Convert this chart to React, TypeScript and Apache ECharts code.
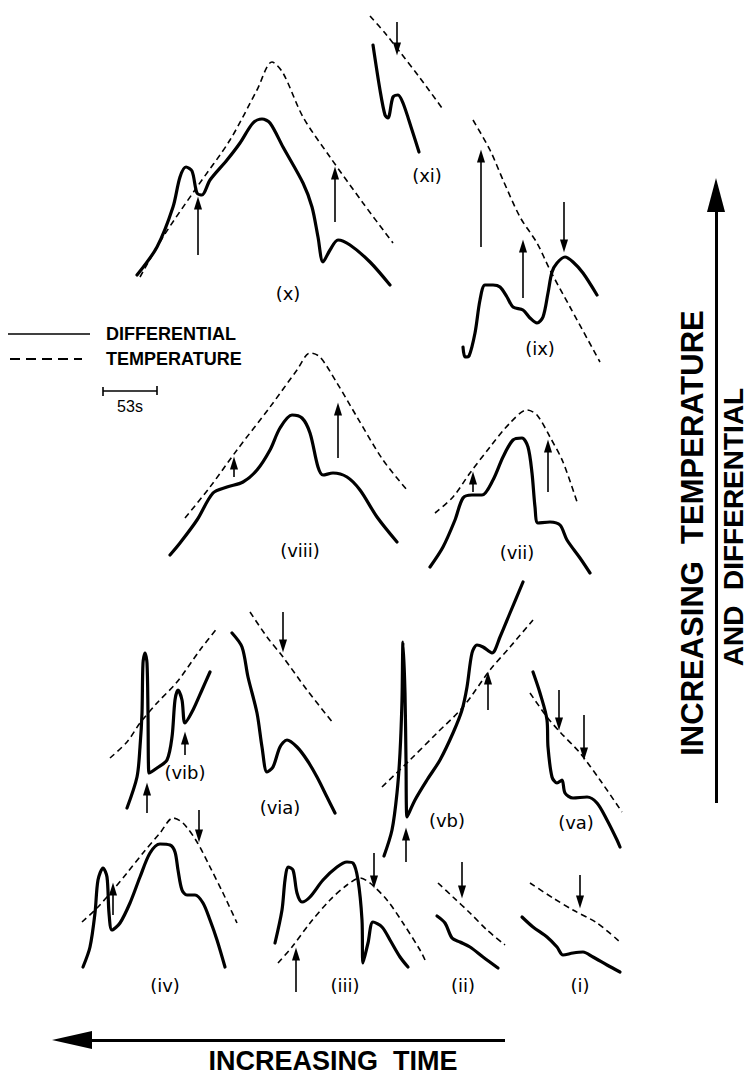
import { useEffect, useRef } from "react";
import * as echarts from "echarts";

// ---- curve data (page coordinates) ----
const xTemp = [[140,277],[163,237],[197,187],[230,140],[257,90],[272,62],[283,73],[303,117],[330,157],[363,203],[393,243]];
const xDiff = [[137,275],[157,247],[173,207],[180,177],[186,167],[192,171],[197,193],[202,195],[210,180],[227,160],[240,143],[253,123],[262,119],[270,123],[283,147],[303,183],[312,207],[318,237],[323,262],[330,250],[338,240],[350,245],[370,262],[390,285]];
const xiTemp = [[370,16],[385,33],[400,52],[420,78],[442,108]];
const xiDiff = [[373,45],[380,90],[385,115],[388,118],[393,97],[398,95],[403,103],[412,130],[419,152]];
const ixTemp = [[473,120],[490,150],[503,180],[520,217],[537,243],[550,270],[570,307],[600,362]];
const ixDiff = [[463,347],[465,357],[469,356],[475,333],[480,300],[485,285],[493,285],[500,287],[507,297],[513,307],[523,310],[530,318],[537,323],[543,317],[548,293],[552,272],[557,263],[565,257],[573,262],[583,273],[597,295]];
const viiiTemp = [[185,518],[210,487],[237,450],[270,407],[297,370],[310,353],[320,357],[337,383],[357,417],[383,460],[407,490]];
const viiiDiff = [[170,555],[180,543],[197,520],[213,493],[227,487],[243,482],[257,470],[270,450],[280,428],[292,415],[302,418],[310,433],[318,467],[323,475],[333,473],[347,477],[360,490],[377,517],[397,542]];
const viiTemp = [[435,513],[453,497],[470,473],[490,447],[510,423],[527,410],[537,415],[550,437],[563,462],[578,505]];
const viiDiff = [[430,567],[443,547],[455,520],[463,498],[472,495],[482,495],[493,480],[503,457],[513,440],[522,438],[528,447],[532,473],[535,507],[538,523],[550,522],[560,525],[567,540],[580,558],[590,573]];
const vibTemp = [[110,758],[127,742],[140,723],[157,703],[177,682],[200,650],[218,627]];
const vibDiff = [[127,808],[137,777],[140,747],[142,713],[143,663],[145,653],[147,663],[148,713],[149,773],[157,768],[167,760],[172,737],[175,700],[178,690],[182,700],[185,723],[193,710],[202,690],[210,672]];
const viaTemp = [[250,612],[267,637],[283,657],[307,690],[333,723]];
const viaDiff = [[232,633],[242,647],[248,677],[257,713],[262,747],[267,772],[273,767],[280,747],[287,740],[297,747],[307,760],[317,777],[327,797],[335,813]];
const vbTemp = [[382,787],[410,760],[437,733],[463,707],[490,670],[510,647],[533,620]];
const vbDiff = [[384,856],[392,830],[397,793],[400,753],[402,700],[403,642],[405,693],[406,760],[407,817],[415,800],[427,780],[440,760],[453,733],[462,710],[467,687],[472,653],[477,645],[483,647],[492,653],[500,637],[510,613],[523,582]];
const vaTemp = [[530,693],[547,717],[560,732],[580,753],[600,780],[622,812]];
const vaDiff = [[533,672],[540,693],[547,720],[548,747],[552,777],[557,783],[562,780],[565,793],[573,798],[587,797],[597,803],[607,820],[617,840],[620,847]];
const ivTemp = [[82,922],[97,908],[113,890],[127,873],[143,853],[160,833],[173,818],[183,823],[197,842],[210,867],[223,893],[237,923]];
const ivDiff = [[83,967],[90,947],[95,913],[98,880],[103,868],[107,877],[109,913],[112,930],[120,923],[130,903],[140,877],[150,853],[160,844],[170,845],[175,852],[178,870],[182,890],[187,895],[195,895],[203,903],[210,920],[217,940],[225,967]];
const iiiTemp = [[278,963],[292,947],[310,923],[330,900],[347,885],[360,878],[370,883],[387,900],[403,923],[420,950],[425,960]];
const iiiDiff = [[275,943],[282,910],[285,880],[288,867],[293,870],[297,893],[302,902],[310,897],[323,880],[337,867],[347,862],[353,863],[358,880],[362,920],[363,963],[368,943],[373,922],[382,927],[390,940],[400,957],[408,967]];
const iiTemp = [[438,883],[453,897],[470,913],[487,930],[505,945]];
const iiDiff = [[437,916],[445,923],[452,938],[460,942],[470,947],[483,957],[498,968]];
const iTemp = [[530,883],[553,898],[573,910],[597,923],[620,942]];
const iDiff = [[522,917],[533,927],[547,937],[557,947],[563,955],[573,953],[583,952],[593,957],[607,965],[620,972]];

// vertical marker arrows: [x, tailY, headY]
const markerArrows = [
  [198,255,197],[335,222,167],
  [397,22,55],
  [481,247,150],[523,298,240],[564,202,252],
  [234,477,457],[338,458,403],
  [473,492,472],[548,492,440],
  [147,813,783],[185,755,732],
  [283,612,652],
  [488,710,672],[406,862,828],
  [559,690,730],[584,715,760],
  [113,915,883],[199,810,842],
  [296,992,948],[374,853,888],
  [462,862,898],
  [580,875,908],
];

// panel labels: [text, x, y]
const panelLabels = [
  ["(x)",288,293],["(xi)",427,175],["(ix)",540,348],
  ["(viii)",300,550],["(vii)",517,552],
  ["(vib)",185,772],["(via)",280,807],["(vb)",447,820],["(va)",576,822],
  ["(iv)",165,985],["(iii)",345,985],["(ii)",463,985],["(i)",580,985],
];

// legend
const legendSolid = [[8,334],[90,334]];
const legendDash = [[10,359],[82,359]];
const legendTexts = [["DIFFERENTIAL",106,334],["TEMPERATURE",106,359]];
const scaleBar = [[103,391],[157,391]];
const scaleTicks = [[103,387,396],[157,386,395]];
const scaleText = ["53s",130,406];

// big axes arrows
const tempAxis = [716,803,178]; // x, tail y, head y
const timeAxis = [1040,505,52]; // y, tail x, head x
const tempAxisTexts = [["INCREASING  TEMPERATURE",692,533,31],["AND  DIFFERENTIAL",733,527,28]];
const timeAxisText = ["INCREASING  TIME",333,1061];

const diffCurves = [xDiff, xiDiff, ixDiff, viiiDiff, viiDiff, vibDiff, viaDiff, vbDiff, vaDiff, ivDiff, iiiDiff, iiDiff, iDiff];
const tempCurves = [xTemp, xiTemp, ixTemp, viiiTemp, viiTemp, vibTemp, viaTemp, vbTemp, vaTemp, ivTemp, iiiTemp, iiTemp, iTemp];

export default function App() {
  const ref = useRef<HTMLDivElement>(null);
  useEffect(() => {
    const chart = echarts.init(ref.current!, null, { renderer: "svg" });
    const INK = "#000";
    const textBase = { show: true, color: INK, textBorderWidth: 0, textBorderColor: "transparent", textShadowBlur: 0 };
    const series: any[] = [];
    diffCurves.forEach((d) =>
      series.push({
        type: "line", data: d, smooth: 0.3, symbol: "none", silent: true, clip: false,
        lineStyle: { color: INK, width: 3.2, cap: "round", join: "round" },
      })
    );
    tempCurves.forEach((d) =>
      series.push({
        type: "line", data: d, smooth: 0.3, symbol: "none", silent: true, clip: false,
        lineStyle: { color: INK, width: 1.6, type: [6, 4] },
      })
    );
    series.push({ type: "line", data: legendSolid, symbol: "none", lineStyle: { color: INK, width: 1.6 } });
    series.push({ type: "line", data: legendDash, symbol: "none", lineStyle: { color: INK, width: 2, type: [10, 6] } });
    series.push({ type: "line", data: scaleBar, symbol: "none", lineStyle: { color: INK, width: 1.6 } });

    const shafts: any[] = markerArrows.map(([x, t, h]) => [
      { coord: [x, t] },
      { coord: [x, h + (h < t ? 8 : -8)] },
    ]);
    const ticks: any[] = scaleTicks.map(([x, a, b]) => [{ coord: [x, a] }, { coord: [x, b] }]);
    const bigShafts: any[] = [
      [{ coord: [tempAxis[0], tempAxis[1]] }, { coord: [tempAxis[0], tempAxis[2] + 20] }],
      [{ coord: [timeAxis[1], timeAxis[0]] }, { coord: [timeAxis[2] + 30, timeAxis[0]] }],
    ];
    series.push({
      type: "line", data: [], symbol: "none",
      markLine: {
        silent: true, symbol: "none", animation: false,
        label: { show: false },
        lineStyle: { color: INK, width: 1.6, type: "solid", opacity: 1 },
        data: shafts.concat(ticks),
      },
    });
    series.push({
      type: "line", data: [], symbol: "none",
      markLine: {
        silent: true, symbol: "none", animation: false,
        label: { show: false },
        lineStyle: { color: INK, width: 3, type: "solid", opacity: 1 },
        data: bigShafts,
      },
    });
    const heads = markerArrows.map(([x, t, h]) => ({
      value: [x, h + (h < t ? 6 : -6)],
      symbolRotate: h < t ? 0 : 180,
    }));
    series.push({
      type: "scatter", data: heads, symbol: "triangle", symbolSize: [8, 13],
      itemStyle: { color: INK, opacity: 1 }, silent: true, clip: false,
    });
    series.push({
      type: "scatter", symbol: "triangle", silent: true, clip: false, itemStyle: { color: INK, opacity: 1 },
      data: [
        { value: [tempAxis[0], tempAxis[2] + 17], symbolSize: [18, 34], symbolRotate: 0 },
        { value: [timeAxis[2] + 20, timeAxis[0]], symbolSize: [18, 40], symbolRotate: 90 },
      ],
    });
    series.push({
      type: "scatter", symbolSize: 0, silent: true, clip: false, itemStyle: { opacity: 1 },
      data: panelLabels.map(([t, x, y]) => ({ name: t, value: [x, y] })),
      label: { ...textBase, position: "inside", formatter: "{b}", fontFamily: "DejaVu Sans", fontSize: 18 },
    });
    series.push({
      type: "scatter", symbolSize: 0, silent: true, clip: false, itemStyle: { opacity: 1 },
      data: legendTexts.map(([t, x, y]) => ({ name: t, value: [x, y] })),
      label: { ...textBase, position: "right", distance: 0, formatter: "{b}", fontFamily: "Liberation Sans", fontWeight: "bold", fontSize: 18 },
    });
    series.push({
      type: "scatter", symbolSize: 0, silent: true, clip: false, itemStyle: { opacity: 1 },
      data: [{ name: scaleText[0], value: [scaleText[1], scaleText[2]] }],
      label: { ...textBase, position: "inside", formatter: "{b}", fontFamily: "Liberation Sans", fontSize: 16 },
    });
    series.push({
      type: "scatter", symbolSize: 0, silent: true, clip: false, itemStyle: { opacity: 1 },
      data: tempAxisTexts.map(([t, x, y, fs]) => ({
        name: t, value: [x, y],
        label: { fontSize: fs },
      })),
      label: { ...textBase, position: "inside", rotate: 90, formatter: "{b}", fontFamily: "Liberation Sans", fontWeight: "bold" },
    });
    series.push({
      type: "scatter", symbolSize: 0, silent: true, clip: false, itemStyle: { opacity: 1 },
      data: [{ name: timeAxisText[0], value: [timeAxisText[1], timeAxisText[2]] }],
      label: { ...textBase, position: "inside", formatter: "{b}", fontFamily: "Liberation Sans", fontWeight: "bold", fontSize: 27 },
    });

    chart.setOption({
      animation: false,
      backgroundColor: "#fff",
      grid: { left: 0, right: 0, top: 0, bottom: 0 },
      xAxis: { type: "value", min: 0, max: 755, show: false },
      yAxis: { type: "value", min: 0, max: 1077, inverse: true, show: false },
      series,
    });
    return () => chart.dispose();
  }, []);
  return (
    <div
      ref={ref}
      style={{ position: "absolute", left: 0, top: 0, width: 755, height: 1077, background: "#fff" }}
    />
  );
}
